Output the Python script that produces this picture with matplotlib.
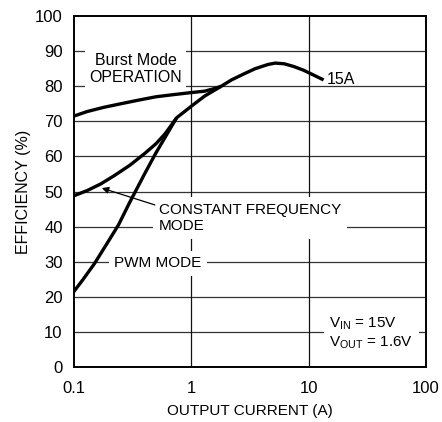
import matplotlib
matplotlib.use("Agg")
import matplotlib.pyplot as plt
from matplotlib.ticker import FixedLocator, FixedFormatter, NullLocator

plt.rcParams['font.family'] = ['Liberation Sans', 'DejaVu Sans']

# Burst Mode operation (low current part)
burst_x = [0.1, 0.13, 0.18, 0.25, 0.35, 0.5, 0.7, 1.0, 1.3, 1.6, 1.8]
burst_y = [71.5, 72.8, 74.0, 75.0, 76.0, 77.0, 77.6, 78.2, 78.6, 79.4, 80.0]

# shared high current part (15A)
main_x = [1.8, 2.2, 2.8, 3.5, 4.5, 5.2, 6.2, 7.5, 9.0, 11.0, 13.4]
main_y = [80.0, 81.8, 83.5, 85.0, 86.2, 86.6, 86.4, 85.6, 84.6, 83.2, 81.8]

# constant frequency mode
cf_x = [0.1, 0.13, 0.17, 0.22, 0.3, 0.4, 0.5, 0.6, 0.75, 1.0, 1.3, 1.8]
cf_y = [48.8, 50.3, 52.2, 54.5, 57.5, 60.8, 63.6, 66.5, 71.0, 74.3, 77.2, 80.0]

# PWM mode
pwm_x = [0.1, 0.12, 0.15, 0.19, 0.24, 0.3, 0.4, 0.5, 0.6, 0.75]
pwm_y = [21.5, 25.0, 29.5, 35.0, 40.5, 47.0, 55.0, 61.0, 65.5, 71.0]

xticks = [0.1, 1, 10, 100]
xtick_labels = ["0.1", "1", "10", "100"]
yticks = list(range(0, 101, 10))

fig = plt.figure(figsize=(4.42, 4.22), dpi=100)
ax = fig.add_axes([0.167, 0.130, 0.797, 0.832])

ax.set_xscale("log")
ax.set_xlim(0.1, 100)
ax.set_ylim(0, 100)
ax.xaxis.set_major_locator(FixedLocator(xticks))
ax.xaxis.set_major_formatter(FixedFormatter(xtick_labels))
ax.xaxis.set_minor_locator(NullLocator())
ax.set_yticks(yticks)
ax.tick_params(length=0, labelsize=12)
ax.tick_params(axis="y", pad=8)
ax.tick_params(axis="x", pad=10)

# grid (only inner lines)
for v in yticks[1:-1]:
    ax.axhline(v, color="#333333", lw=0.9, zorder=1)
for v in [1, 10]:
    ax.axvline(v, color="#111111", lw=0.9, zorder=1)

for s in ax.spines.values():
    s.set_linewidth(1.4)

lw = 2.4
ax.plot(burst_x, burst_y, color="black", lw=lw, zorder=3, solid_capstyle="butt")
ax.plot(main_x, main_y, color="black", lw=lw, zorder=3, solid_capstyle="butt")
ax.plot(cf_x, cf_y, color="black", lw=lw, zorder=3, solid_capstyle="butt")
ax.plot(pwm_x, pwm_y, color="black", lw=lw, zorder=3, solid_capstyle="butt")

ax.text(0.337, 84.9, "Burst Mode\nOPERATION", ha="center", va="center",
        fontsize=11.5, linespacing=1.15,
        bbox=dict(facecolor="white", edgecolor="none", pad=3), zorder=2)
ax.text(14.2, 82.0, "15A", ha="left", va="center", fontsize=11.5, zorder=4)
ax.text(0.53, 42.5, "CONSTANT FREQUENCY\nMODE", ha="left", va="center",
        fontsize=11, linespacing=1.2,
        bbox=dict(facecolor="white", edgecolor="none", pad=4), zorder=2)
ax.text(0.52, 29.6, "PWM MODE", ha="center", va="center", fontsize=11,
        bbox=dict(facecolor="white", edgecolor="none", pad=4), zorder=2)
ax.annotate("", xy=(0.173, 51.0), xytext=(0.49, 46.2),
            arrowprops=dict(arrowstyle="-|>", color="black", lw=0.9,
                            mutation_scale=10, shrinkA=0, shrinkB=0), zorder=4)
ax.text(15.0, 9.8, "V$_{\\mathregular{IN}}$ = 15V\nV$_{\\mathregular{OUT}}$ = 1.6V",
        ha="left", va="center", fontsize=11, linespacing=1.2,
        bbox=dict(facecolor="white", edgecolor="none", pad=4), zorder=2)

ax.set_xlabel("OUTPUT CURRENT (A)", fontsize=11, labelpad=6)
ax.set_ylabel("EFFICIENCY (%)", fontsize=11.5, labelpad=3)

fig.savefig("out.png", dpi=100)
